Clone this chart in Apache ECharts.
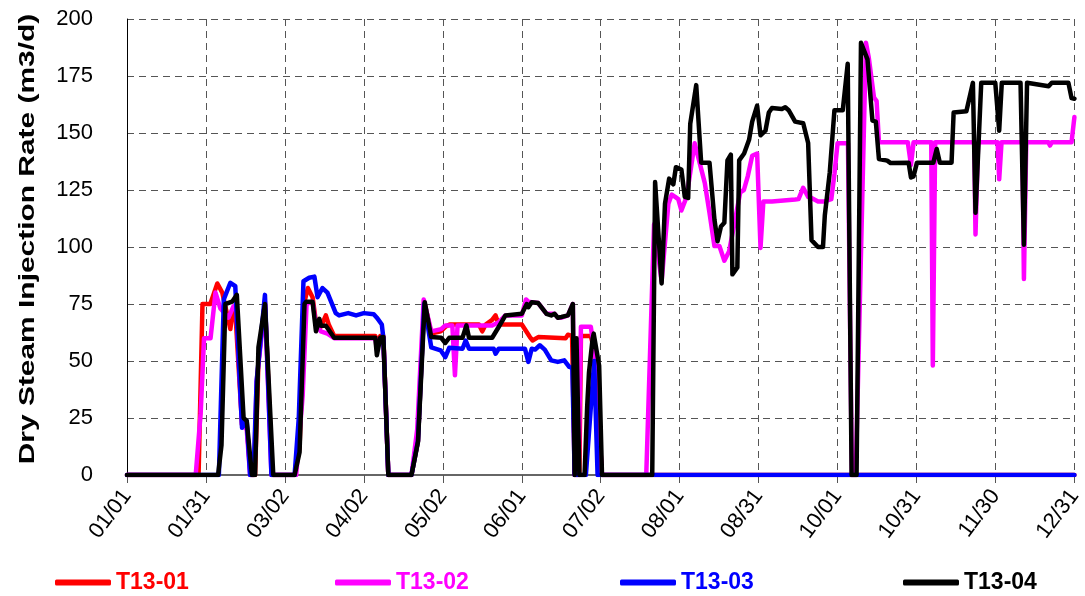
<!DOCTYPE html>
<html>
<head>
<meta charset="utf-8">
<script src="https://cdn.jsdelivr.net/npm/echarts@6/dist/echarts.min.js"></script>
<style>
html,body{margin:0;padding:0;background:#fff;}
#chart{width:1085px;height:596px;}
</style>
</head>
<body>
<div id="chart"></div>
<script>
// x = day of year (0 = 01/01), y = dry steam injection rate (m3/d)
var tickLabels = ['01/01','01/31','03/02','04/02','05/02','06/01','07/02','08/01','08/31','10/01','10/31','11/30','12/31'];
var seriesNames = ['T13-01','T13-02','T13-03','T13-04'];
var seriesColors = ['#ff0000','#ff00ff','#0000ff','#000000'];
var yTitle = 'Dry Steam Injection Rate (m3/d)';

var t1301 = [[0,0],[27.5,0],[29,75],[32,75],[34.7,84],[36.6,80],[39.7,64],[40.4,70],[41.6,72],[44.2,22],[46,22],[47.5,0],[49.2,0],[50.5,50],[53,76],[55.8,0],[64.4,0],[66.3,12],[68.2,76],[69.5,82],[71.3,78],[72.6,67],[74.5,65],[76.4,70],[77.5,66],[79.6,61],[95.4,61],[96,57],[97.3,61],[98.5,61],[100.4,0],[109.3,0],[111.8,15],[114.2,76],[116.9,62],[120.5,63],[122.3,65],[124,66],[135.2,66],[136.5,63],[137.8,66],[140.3,68],[141.6,70],[142.8,66],[151.7,66],[154.8,60.5],[155.8,59],[158,60.5],[168.5,60],[169.4,61.5],[171,61],[172,0],[173.8,0],[174.4,61],[178.2,61],[179.5,55],[182.5,0],[364,0]];

var t1302 = [[0,0],[26.4,0],[28.3,27],[29.6,60],[32.1,60],[34,80],[35.9,73],[39,69],[40.9,74],[42,73],[44.2,22],[46,20],[47.3,0],[48.8,0],[49.8,41],[53,75],[55.5,0],[65,0],[67.5,35],[69,75],[71.3,76],[72.6,66],[74.5,63],[77,62],[79.6,60],[95.4,60],[96,55],[97.3,60],[98.5,60],[100.4,0],[109.3,0],[111.5,20],[114,77],[116.9,63],[120.7,64],[122.3,65.6],[125,65.6],[126,43.7],[127,65.6],[140.3,65.6],[142.8,67],[145.4,70],[151.7,70],[153.3,77],[154.2,76],[155.5,75.8],[158,75.4],[161.2,70.7],[164.3,70.7],[165.5,69],[166.9,69],[169.4,70],[171.3,75],[172,0],[173.5,0],[174.4,65],[178.2,65],[179.5,55],[182.5,0],[199.5,0],[202.5,110],[205.4,85],[208,119],[209.3,123],[210.6,122],[211.8,121],[213,116],[215,122],[218.1,145.5],[220,137],[222,128],[223.8,115],[225.7,100.4],[227.6,100.4],[229.5,94],[231.3,98],[233,108],[235.6,124],[237,125],[238.5,131],[240.2,140],[242.1,141],[243.4,99.6],[244.5,120],[247.8,120],[256.7,120.8],[258,121],[259.8,126],[261.7,122],[263,121.5],[265.5,120],[268,120],[270.6,121],[271.8,132],[273,145.5],[277,145.5],[278.5,0],[280,0],[283.9,189.6],[285,183],[287,165.6],[288,164],[288.9,145.9],[300,145.9],[301.2,136],[302.2,145.9],[309,145.9],[309.6,48],[310.5,145.9],[325.5,145.9],[326,105.5],[327,145.9],[334.5,145.9],[335.1,129.7],[336,145.9],[344,145.9],[344.6,86],[345.5,145.9],[354,145.9],[354.6,144.5],[355.3,145.9],[362.9,145.9],[364,157]];

var t1303 = [[0,0],[35.3,0],[37.2,77],[39.7,84.3],[41.6,82.8],[44.2,20.7],[46,23.7],[47.3,0],[48.6,0],[49.8,41],[53,79],[55.5,0],[64.4,0],[66,25],[67.8,85],[70,86.5],[72,87],[73.2,78],[75.1,82],[77,80],[80.2,71],[81.5,70],[85,71],[88,70],[91,71],[94.8,70.5],[96,69],[97.9,66],[98.5,60],[100.4,0],[109.3,0],[111.8,15],[114.2,75],[116.9,56],[120.5,54.7],[122.3,51.7],[123.8,55.8],[128.9,55.4],[130.1,59],[131.4,55.4],[140.9,55.4],[141.6,53.2],[142.8,55.4],[152.9,55.4],[154.2,49.6],[155.5,55.4],[156.8,55],[158.6,56.9],[160.5,55],[163,50.3],[165.5,49.6],[168,50.3],[169.9,47.4],[171.1,47],[172,0],[176.3,0],[179.5,50],[180.8,0],[364,0]];

var t1304 = [[0,0],[35,0],[36.3,13],[37.8,75],[40.4,76],[42.2,79],[44.8,25],[46,23.7],[48,0],[49.2,0],[50.5,56],[53,75],[56.2,0],[64.4,0],[66.3,10],[68.2,75],[68.8,76],[71.3,76],[72.6,63],[73.9,68.5],[74.5,65.5],[76.4,65.5],[77,65],[79.6,60.2],[95.4,60.2],[96,52.5],[97.3,60.2],[98.5,60.5],[100.4,0],[109.3,0],[111.8,14.6],[114.4,75.8],[116.9,60.5],[120.7,60.2],[122.3,57.9],[123.8,60.2],[128.9,60.2],[130.4,65.6],[131.4,60.2],[140.3,60.2],[142.8,64.9],[145.4,70],[151.7,70.7],[153.6,75],[154.2,73.6],[155.5,75.8],[158,75.4],[161.2,70.7],[163,70],[164.3,70.7],[165.5,69],[166.9,69.3],[169.4,70],[171.3,75],[172,0],[172.7,60],[173.8,0],[175.8,0],[176.8,30],[177.5,45],[178.9,60],[179.3,62],[181.4,48],[182.5,0],[201.8,0],[202.9,128.5],[205.4,84],[206.7,119],[208.3,130],[209.9,127.5],[210.9,135],[213,134],[214.3,122],[215.6,121.5],[216.4,154],[218.7,171],[220.6,137],[223.8,137],[225.7,112],[226.9,102.5],[228.2,109],[229.5,110.6],[230.7,138],[232,140.5],[232.6,88],[234.5,91],[235.2,138],[237.1,141],[239,147],[240.2,155],[242.1,162],[243.4,149],[245.3,151],[246.6,159],[247.8,161],[251.6,160.5],[252.9,161.3],[254.2,160],[256.7,155],[259.8,154.3],[261.7,145.6],[263,103],[265.5,100],[267.4,100],[268.1,113.8],[270,132.7],[271.8,160],[275,160],[276.9,180.4],[278.4,0],[280.3,0],[282,189.6],[284.5,182.3],[286.4,155.4],[287.7,155],[288.9,138.6],[292.1,137.9],[293.4,136.8],[300.3,137],[301.2,130.5],[302.2,131],[303.5,137],[309.8,137],[311.1,143],[312.3,137],[316.8,137],[317.6,159],[322.5,159.5],[325,172],[326,115],[328.2,172],[333.6,172],[335.1,151],[336.1,172],[343.3,172],[344.6,101],[345.8,172],[354.1,170.5],[355.3,172],[361.7,172],[362.9,165.3],[364,165]];

var seriesData = [t1301, t1302, t1303, t1304];
var X_MAX = 364;
var X_INT = X_MAX / 12;
var FONT = 'Liberation Sans, Arial, sans-serif';

var chart = echarts.init(document.getElementById('chart'), null, {renderer: 'canvas'});

var legendLefts = [50, 330, 615, 898];
var legends = seriesNames.map(function (n, i) {
  return {
    data: [n], left: legendLefts[i], top: 566,
    icon: 'roundRect', itemWidth: 56, itemHeight: 6, itemGap: 4,
    textStyle: {color: seriesColors[i], fontWeight: 'bold', fontSize: 23, fontFamily: FONT}
  };
});

var option = {
  animation: false,
  backgroundColor: '#ffffff',
  grid: {left: 127, right: 0, top: 19, bottom: 121, containLabel: false},
  legend: legends,
  graphic: [{
    type: 'text', x: 28, y: 239, rotation: Math.PI / 2, scaleX: 1.36, scaleY: 1,
    style: {text: yTitle, font: 'bold 22px ' + FONT, fill: '#000', align: 'center', verticalAlign: 'middle'}
  }],
  xAxis: {
    type: 'value', min: 0, max: X_MAX, interval: X_INT,
    axisLine: {show: true, lineStyle: {color: '#666', width: 2}},
    axisTick: {show: true, length: 8, lineStyle: {color: '#555', width: 1}},
    axisLabel: {
      rotate: 53, margin: 17, fontSize: 22, color: '#000', fontFamily: FONT,
      formatter: function (v) { var i = Math.round(v / X_INT); return tickLabels[i] || ''; }
    },
    splitLine: {show: true, lineStyle: {color: '#555', width: 1, type: [7, 5]}}
  },
  yAxis: {
    type: 'value', min: 0, max: 200, interval: 25,
    axisLine: {show: true, lineStyle: {color: '#000', width: 1}},
    axisTick: {show: false},
    axisLabel: {fontSize: 22, color: '#000', margin: 34, fontFamily: FONT},
    splitLine: {show: true, lineStyle: {color: '#555', width: 1, type: [7, 5]}}
  },
  series: seriesNames.map(function (n, i) {
    return {
      name: n, type: 'line', data: seriesData[i], showSymbol: false, symbol: 'none',
      lineStyle: {color: seriesColors[i], width: 4.5, join: 'round', cap: 'round'},
      itemStyle: {color: seriesColors[i]},
      z: 2 + i
    };
  })
};
chart.setOption(option);
</script>
</body>
</html>
